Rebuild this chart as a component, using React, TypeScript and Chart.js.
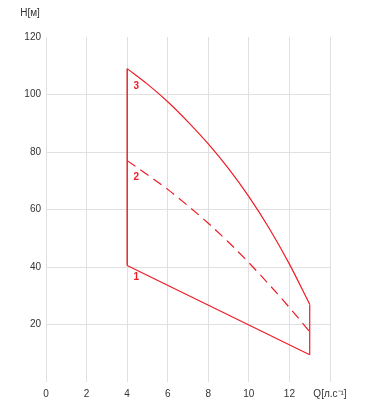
import React, { useEffect, useRef } from "react";
import { Chart, registerables } from "chart.js";

Chart.register(...registerables);

const qCurve = [4, 5, 6, 7, 8, 9, 10, 11, 12, 13];
const h3 = [109, 103.6, 97.5, 90.5, 82.8, 74.2, 64.5, 53.5, 41, 27];
const h2 = [77, 72.1, 67, 61.3, 55.2, 48.6, 41.5, 33.9, 25.9, 17.5];
const q1 = [4, 13];
const h1 = [40.5, 9.5];
const qLeft = [4, 4];
const hLeft = [40.5, 109];
const qRight = [13, 13];
const hRight = [9.5, 27];
const curveNames = ["1", "2", "3"];
const curveNameQ = [4.45, 4.45, 4.45];
const curveNameH = [36.3, 71.3, 102.7];
const xTickLabelLast = "Q[л.с⁻¹]";
const yTitle = "H[м]";

const RED = "#ee1c25";
const FONT = "'Liberation Sans', Arial, sans-serif";

const pts = (xs: number[], ys: number[]) => xs.map((x, i) => ({ x, y: ys[i] }));

export default function App() {
  const ref = useRef<HTMLCanvasElement | null>(null);
  useEffect(() => {
    document.body.style.margin = "0";
    const labelsPlugin = {
      id: "labelsPlugin",
      afterDraw(chart: any) {
        const ctx = chart.ctx;
        const xs = chart.scales.x;
        const ys = chart.scales.y;
        ctx.save();
        ctx.fillStyle = RED;
        ctx.font = `bold 10px ${FONT}`;
        ctx.textAlign = "center";
        ctx.textBaseline = "middle";
        curveNames.forEach((n, i) => {
          ctx.fillText(n, xs.getPixelForValue(curveNameQ[i]), ys.getPixelForValue(curveNameH[i]));
        });
        ctx.fillStyle = "#333";
        ctx.font = `10px ${FONT}`;
        ctx.textAlign = "center";
        ctx.fillText(yTitle, 30, 13);
        ctx.restore();
      },
    };
    const chart = new Chart(ref.current!, {
      type: "line",
      data: {
        datasets: [
          { data: pts(q1, h1), borderColor: RED, borderWidth: 1.2, pointRadius: 0 },
          { data: pts(qCurve, h2), borderColor: RED, borderWidth: 1.2, pointRadius: 0, borderDash: [10, 6], cubicInterpolationMode: "monotone" },
          { data: pts(qCurve, h3), borderColor: RED, borderWidth: 1.2, pointRadius: 0, cubicInterpolationMode: "monotone" },
          { data: pts(qLeft, hLeft), borderColor: "#d40000", borderWidth: 1.2, pointRadius: 0 },
          { data: pts(qRight, hRight), borderColor: RED, borderWidth: 1.2, pointRadius: 0 },
        ],
      } as any,
      options: {
        animation: false,
        responsive: false,
        layout: { padding: { top: 37, right: 39, left: 0, bottom: 0 } },
        plugins: { legend: { display: false }, tooltip: { enabled: false } },
        scales: {
          x: {
            type: "linear",
            min: 0,
            max: 14,
            afterFit: (s: any) => { s.height = 37; },
            border: { display: false },
            grid: { color: "#e0e0e0", drawTicks: false },
            ticks: {
              stepSize: 2,
              padding: 6,
              color: "#333",
              font: { family: FONT, size: 10 },
              maxRotation: 0,
              callback: (v: any) => (v === 14 ? xTickLabelLast : String(v)),
            },
          },
          y: {
            min: 0,
            max: 120,
            afterFit: (s: any) => { s.width = 46; },
            border: { display: false },
            grid: {
              drawTicks: false,
              color: (c: any) => (c.tick && (c.tick.value === 0 || c.tick.value === 120) ? "rgba(0,0,0,0)" : "#e0e0e0"),
            },
            ticks: {
              stepSize: 20,
              padding: 5,
              color: "#333",
              font: { family: FONT, size: 10 },
              callback: (v: any) => (v === 0 ? "" : String(v)),
            },
          },
        },
      } as any,
      plugins: [labelsPlugin],
    });
    return () => chart.destroy();
  }, []);
  return <canvas ref={ref} width={369} height={419} style={{ display: "block" }} />;
}
